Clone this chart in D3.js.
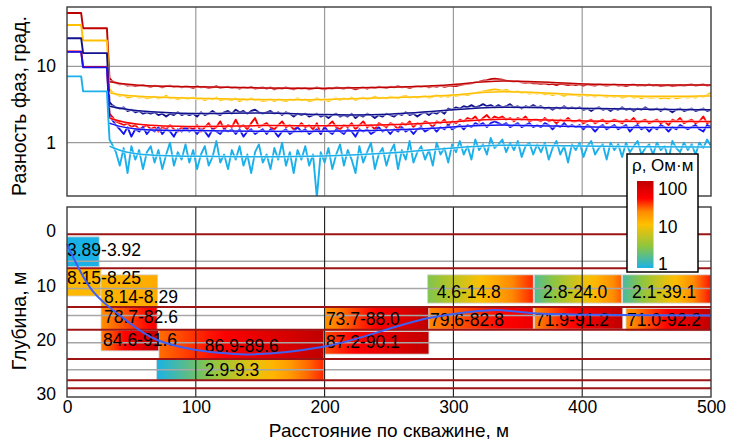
<!DOCTYPE html>
<html><head><meta charset="utf-8">
<script src="https://cdn.jsdelivr.net/npm/d3@7"></script>
<style>body{margin:0;background:#fff}svg{display:block;font-family:"Liberation Sans",Arial,sans-serif}</style>
</head><body><svg id="c" width="731" height="439"></svg>
<script>
// ---------------- DATA ----------------
const distHead = [0, 11, 12.5, 31, 33];
const distGrid = d3.range(35, 501, 3);
const distance = distHead.concat(distGrid);

const phaseDarkRed = [50, 50, 31.6, 31.6, 7.0,
 6.4,6.1,5.8,5.9,5.6,5.7,5.5,5.6,5.7,5.5,
 5.4,5.6,5.5,5.3,5.5,5.6,5.4,5.5,5.3,5.5,
 5.4,5.2,5.5,5.3,5.4,5.2,5.3,5.5,5.2,5.3,
 5.4,5.2,5.3,5.1,5.3,5.2,5.4,5.1,5.2,5.3,
 5.1,5.3,5.0,5.2,5.1,5.3,5.1,5.0,5.2,5.1,
 5.2,5.0,5.1,5.3,5.1,5.0,5.2,5.1,5.3,5.2,
 5.1,5.3,5.2,5.0,5.2,5.3,5.1,5.3,5.2,5.4,
 5.3,5.2,5.4,5.3,5.5,5.3,5.4,5.2,5.4,5.5,
 5.4,5.5,5.3,5.5,5.4,5.6,5.4,5.5,5.6,5.5,
 5.7,5.8,5.9,6.0,6.2,6.3,6.5,6.6,6.8,6.9,
 6.8,6.7,6.5,6.4,6.3,6.4,6.2,6.1,6.2,6.0,
 6.0,5.9,6.0,5.8,5.9,5.7,5.9,5.8,5.7,5.8,
 5.7,5.8,5.6,5.8,5.7,5.6,5.8,5.7,5.6,5.7,
 5.8,5.6,5.7,5.5,5.7,5.8,5.6,5.7,5.6,5.8,
 5.6,5.7,5.5,5.6,5.7,5.5,5.6,5.7,5.6,5.7,
 5.8,5.6,5.7,5.8,5.6,5.7];
const phaseOrange = [34.8, 34.8, 21.8, 21.8, 5.0,
 4.6,4.3,4.1,4.2,3.9,4.0,4.1,3.9,4.0,3.8,
 3.9,4.0,3.8,3.9,4.1,3.8,3.9,3.7,3.9,3.8,
 3.8,3.9,3.7,3.8,3.6,3.8,3.7,3.9,3.6,3.7,
 3.7,3.6,3.8,3.5,3.7,3.6,3.8,3.6,3.7,3.5,
 3.6,3.7,3.5,3.7,3.6,3.5,3.7,3.6,3.8,3.6,
 3.7,3.5,3.6,3.8,3.6,3.7,3.5,3.7,3.8,3.6,
 3.8,3.7,3.9,3.6,3.8,3.9,3.7,3.8,4.0,3.8,
 3.9,3.8,4.0,3.9,3.8,4.0,4.1,3.9,4.0,3.9,
 4.0,4.1,3.9,4.0,4.2,4.0,4.1,4.0,4.2,4.1,
 4.2,4.3,4.2,4.4,4.5,4.6,4.7,4.8,4.9,5.0,
 4.9,4.8,4.9,4.7,4.6,4.7,4.5,4.6,4.4,4.5,
 4.4,4.5,4.3,4.4,4.2,4.4,4.3,4.1,4.3,4.2,
 4.2,4.1,4.3,4.1,4.2,4.0,4.2,4.1,4.0,4.1,
 4.0,4.1,3.9,4.0,4.1,3.9,4.0,3.8,4.0,3.9,
 3.9,4.0,3.8,3.9,3.8,4.0,3.8,3.9,4.0,3.9,
 4.0,3.9,4.1,4.0,4.2,4.5];
const phaseNavy = [23.4, 23.4, 14.9, 14.9, 3.4,
 3.1,2.9,2.8,2.9,2.6,2.7,2.5,2.6,2.4,2.5,
 2.4,2.5,2.3,2.4,2.2,2.4,2.3,2.5,2.3,2.4,
 2.3,2.4,2.2,2.5,2.3,2.4,2.6,2.4,2.3,2.5,
 2.6,2.4,2.7,2.5,2.6,2.4,2.6,2.7,2.5,2.4,
 2.5,2.6,2.4,2.5,2.3,2.5,2.4,2.2,2.4,2.3,
 2.4,2.2,2.3,2.4,2.2,2.3,2.1,2.3,2.4,2.2,
 2.3,2.2,2.4,2.1,2.3,2.2,2.4,2.3,2.1,2.3,
 2.2,2.4,2.3,2.2,2.4,2.3,2.5,2.3,2.4,2.2,
 2.4,2.5,2.3,2.5,2.4,2.6,2.4,2.8,2.7,2.9,
 2.8,3.0,2.9,3.1,2.9,3.0,3.2,3.0,3.1,2.9,
 3.1,2.9,3.0,3.2,2.9,3.0,2.8,3.0,2.9,3.1,
 2.9,3.0,2.8,2.9,2.7,2.9,2.8,3.0,2.8,2.9,
 2.8,2.9,2.7,2.8,2.6,2.8,2.9,2.7,2.8,2.6,
 2.8,2.7,2.9,2.7,2.8,2.6,2.8,2.7,2.9,2.7,
 2.7,2.8,2.6,2.8,2.7,2.5,2.7,2.8,2.6,2.7,
 2.8,2.6,2.7,2.8,2.6,2.7];
const phaseRed = [15.7, 15.7, 9.8, 9.8, 2.4,
 2.2,1.9,1.8,1.7,1.8,1.6,1.7,1.5,1.6,1.7,
 1.5,1.6,1.4,1.6,1.5,1.7,1.5,1.4,1.6,1.5,
 1.6,1.5,1.7,1.4,1.6,1.8,1.5,1.6,1.9,1.5,
 1.7,1.6,2.0,1.6,1.7,1.5,1.8,2.1,1.6,1.7,
 1.8,1.6,1.5,1.7,1.9,1.6,1.7,1.5,1.6,1.8,
 1.6,1.7,1.5,1.8,1.3,1.6,1.7,1.9,1.6,1.5,
 1.7,1.6,1.8,1.5,1.7,1.9,1.6,1.7,1.5,1.8,
 1.7,1.6,1.8,1.7,1.5,1.8,1.7,1.9,1.6,1.8,
 1.7,1.9,1.8,1.6,1.9,1.8,2.0,1.7,1.9,1.8,
 2.0,1.9,2.1,2.0,2.2,1.9,2.1,2.3,2.0,2.2,
 2.1,2.2,2.0,2.1,1.9,2.1,2.0,2.2,1.9,2.0,
 2.0,1.9,2.1,1.9,2.0,1.8,2.0,1.9,2.1,1.9,
 1.9,2.0,1.8,1.9,2.0,1.8,1.9,2.0,1.8,1.9,
 2.0,1.9,1.8,2.0,1.9,2.1,1.8,1.9,2.0,1.8,
 1.9,2.0,1.8,1.9,1.7,2.0,1.9,2.1,1.8,1.9,
 2.0,1.8,1.9,2.2,1.8,1.9];
const phaseBlue = [15.5, 15.5, 9.7, 9.7, 2.2,
 2.0,1.7,1.5,1.3,1.6,1.2,1.5,1.4,1.6,1.3,
 1.5,1.4,1.6,1.3,1.5,1.4,1.2,1.5,1.4,1.6,
 1.4,1.5,1.3,1.5,1.4,1.2,1.5,1.4,1.3,1.5,
 1.4,1.5,1.3,1.5,1.2,1.4,1.5,1.3,1.4,1.5,
 1.3,1.5,1.4,1.2,1.4,1.5,1.3,1.4,1.6,1.4,
 1.5,1.3,1.4,1.5,1.3,1.6,1.4,1.3,1.5,1.4,
 1.3,1.5,1.4,1.2,1.5,1.4,1.5,1.3,1.4,1.6,
 1.4,1.5,1.3,1.5,1.4,1.6,1.4,1.5,1.3,1.5,
 1.6,1.4,1.5,1.6,1.4,1.6,1.5,1.7,1.5,1.6,
 1.7,1.5,1.7,1.6,1.8,1.7,1.8,1.6,1.8,1.9,
 1.8,1.7,1.8,1.6,1.7,1.8,1.6,1.7,1.8,1.6,
 1.7,1.6,1.8,1.7,1.5,1.7,1.6,1.8,1.6,1.7,
 1.6,1.7,1.5,1.7,1.6,1.4,1.6,1.7,1.5,1.6,
 1.7,1.5,1.6,1.7,1.4,1.6,1.7,1.5,1.6,1.4,
 1.6,1.5,1.7,1.6,1.4,1.6,1.5,1.7,1.6,1.5,
 1.6,1.7,1.5,1.4,1.7,1.6];
const phaseCyan = [7.4, 7.4, 4.7, 4.7, 1.1,
 0.95,0.75,0.5,0.85,0.4,0.9,0.6,0.8,0.45,0.75,
 0.9,0.55,0.8,0.45,0.7,1.0,0.5,0.75,0.6,0.95,
 0.55,0.8,0.45,0.7,0.9,0.5,0.65,1.05,0.55,0.7,
 0.45,0.8,0.6,0.9,0.5,0.7,0.4,0.75,0.95,0.55,
 0.7,0.45,0.85,0.6,1.0,0.5,0.75,0.4,0.8,0.6,
 0.9,0.5,0.7,0.19,0.75,0.55,0.85,0.45,0.7,0.95,
 0.5,0.8,0.6,0.4,0.9,0.55,0.75,1.0,0.45,0.7,
 0.85,0.5,0.75,0.95,0.45,0.8,0.6,1.05,0.55,0.75,
 0.9,0.6,0.8,0.5,1.0,0.7,0.85,0.55,0.95,0.75,
 1.05,0.7,0.9,0.6,1.1,0.8,0.95,0.7,1.15,0.85,
 0.95,1.1,0.75,1.0,0.8,1.05,0.65,0.9,1.0,0.7,
 0.95,0.75,1.0,0.6,0.85,1.05,0.7,0.9,0.55,0.95,
 0.8,1.0,0.65,0.9,1.05,0.7,0.85,0.95,0.6,1.0,
 0.8,0.95,0.65,1.0,0.75,0.9,1.05,0.7,0.85,0.95,
 0.7,1.0,0.8,0.9,0.6,1.05,0.85,0.75,1.0,0.8,
 0.95,0.7,1.0,0.85,1.1,0.9];

const trendDistance = [33, 50, 100, 150, 200, 250, 300, 333, 400, 450, 500];
const trendDarkRed = [6.3, 5.6, 5.4, 5.2, 5.15, 5.3, 5.6, 6.8, 5.8, 5.7, 5.7];
const trendOrange  = [4.5, 4.0, 3.8, 3.65, 3.65, 3.9, 4.1, 4.9, 4.2, 4.0, 4.1];
const trendNavy    = [3.0, 2.6, 2.35, 2.5, 2.3, 2.3, 2.7, 3.0, 2.8, 2.75, 2.7];
const trendRed     = [2.1, 1.7, 1.6, 1.7, 1.65, 1.7, 1.85, 2.1, 1.9, 1.9, 1.9];
const trendBlue    = [1.8, 1.45, 1.45, 1.4, 1.4, 1.45, 1.6, 1.75, 1.6, 1.58, 1.58];
const trendCyan    = [0.9, 0.68, 0.66, 0.65, 0.66, 0.72, 0.85, 0.95, 0.9, 0.88, 0.88];

const phaseTicks = [1, 10];
const distanceTicks = [0, 100, 200, 300, 400, 500];
const depthTicks = [0, 10, 20, 30];
const depthGrid = [5, 10, 15, 20, 25];
const boundaryDepths = [0, 6.3, 13.4, 17.6, 23.0, 26.9, 28.4];

const layerX0     = [0, 0, 26.4, 26.4, 26.4, 71.4, 69.6, 200.3, 200.3, 280, 281, 362.8, 362.8, 431.4, 434];
const layerX1     = [25, 26.4, 70.4, 70, 71.4, 199.5, 199.5, 281, 281, 362, 362, 430.6, 431.5, 500, 500];
const layerTop    = [0.5, 6.3, 7.5, 13.4, 17.7, 17.6, 23.05, 13.4, 17.95, 7.5, 13.4, 7.5, 13.5, 7.5, 13.7];
const layerBottom = [6.0, 11.4, 13.4, 17.6, 21.5, 23.0, 26.9, 17.8, 22.1, 12.7, 17.5, 12.7, 17.5, 12.7, 17.8];
const layerLabel  = ["3.89-3.92","8.15-8.25","8.14-8.29","78.7-82.6","84.6-91.6","86.9-89.6","2.9-9.3",
                     "73.7-88.0","87.2-90.1","4.6-14.8","79.6-82.8","2.8-24.0","71.9-91.2","2.1-39.1","71.0-92.2"];
const labelDist   = [0, 0, 28.7, 28.7, 28, 107, 107, 201, 201, 287, 281.8, 369.6, 363.4, 438.7, 434.8];
const labelDepth  = [2.9, 8.0, 11.5, 15.2, 19.5, 20.5, 25.0, 15.5, 19.8, 10.6, 15.7, 10.6, 15.7, 10.6, 15.7];

const profileDist  = [0, 20, 45, 70, 130, 200, 280, 330, 365, 430, 500];
const profileDepth = [1.8, 10.5, 15.7, 19.5, 22.1, 20.7, 15.5, 14.0, 14.6, 14.9, 15.0];

const legendTicks = [1, 10, 100];

// ---------------- STYLE ----------------
const seriesColors = ["#C00000", "#FFC000", "#12128F", "#FF0000", "#1414F0", "#1CB0EA"];
const series = [phaseDarkRed, phaseOrange, phaseNavy, phaseRed, phaseBlue, phaseCyan];
const trends = [trendDarkRed, trendOrange, trendNavy, trendRed, trendBlue, trendCyan];
const cmap = d3.scaleLinear().domain([0, 0.25, 0.5, 0.65, 0.8, 1])
  .range(["#1AB2E6", "#8DC63F", "#FFC000", "#FF8A00", "#FF0000", "#C00000"]).interpolate(d3.interpolateRgb);
const layerTint = [[0,0],[0.52,0.53],[0.53,0.56],[0.64,0.82],[0.66,1],[0.68,1],[0,0.76],
                   [0.62,1],[0.72,1],[0.22,0.76],[0.65,0.86],[0.12,0.7],[0.65,1],[0.1,0.78],[0.62,1]];

const font = '"Liberation Sans", Arial, sans-serif';
const svg = d3.select("#c");
const L = 67, R = 711;
const topT = 7, topB = 196, botT = 207, botB = 397;

const x = d3.scaleLinear().domain([0, 500]).range([L, R]);
const yPhase = d3.scaleLog().domain([0.2, 60]).range([topB, topT]);
const yDepth = d3.scaleLinear().domain([-5, 30]).range([botT, botB]);

const defs = svg.append("defs");
defs.append("clipPath").attr("id", "clipTop").append("rect")
  .attr("x", L).attr("y", topT).attr("width", R - L).attr("height", topB - topT);
defs.append("clipPath").attr("id", "clipBot").append("rect")
  .attr("x", L).attr("y", botT).attr("width", R - L).attr("height", botB - botT);

// ---------- TOP PANEL ----------
const gTop = svg.append("g");
gTop.append("rect").attr("x", L).attr("y", topT).attr("width", R - L).attr("height", topB - topT).attr("fill", "#fff");
gTop.selectAll("line.hg").data(phaseTicks).join("line")
  .attr("x1", L).attr("x2", R).attr("y1", d => yPhase(d)).attr("y2", d => yPhase(d))
  .attr("stroke", "#9a9a9a").attr("stroke-width", 1.2);
gTop.selectAll("line.vg").data(distanceTicks.slice(1, -1)).join("line")
  .attr("y1", topT).attr("y2", topB).attr("x1", d => x(d)).attr("x2", d => x(d))
  .attr("stroke", "#9a9a9a").attr("stroke-width", 1.2);

const gLines = gTop.append("g").attr("clip-path", "url(#clipTop)");
const lineNoisy = d3.line().x((d, i) => x(distance[i])).y(d => yPhase(d));
const lineTrend = d3.line().x((d, i) => x(trendDistance[i])).y(d => yPhase(d)).curve(d3.curveBasis);
series.forEach((s, k) => {
  gLines.append("path").attr("d", lineNoisy(s)).attr("fill", "none")
    .attr("stroke", seriesColors[k]).attr("stroke-width", 1.9).attr("stroke-linejoin", "round");
});
trends.forEach((s, k) => {
  gLines.append("path").attr("d", lineTrend(s)).attr("fill", "none")
    .attr("stroke", "#fff").attr("stroke-opacity", 0.55).attr("stroke-width", 3.2);
  gLines.append("path").attr("d", lineTrend(s)).attr("fill", "none")
    .attr("stroke", seriesColors[k]).attr("stroke-width", 1.5);
});
gTop.append("rect").attr("x", L).attr("y", topT).attr("width", R - L).attr("height", topB - topT)
  .attr("fill", "none").attr("stroke", "#3a3a3a").attr("stroke-width", 1.4);

const axTop = d3.axisLeft(yPhase).tickValues(phaseTicks).tickFormat(d3.format("d")).tickSize(0).tickPadding(11);
const gAxTop = svg.append("g").attr("transform", `translate(${L},0)`).call(axTop);
gAxTop.select(".domain").remove();
gAxTop.selectAll("text").attr("font-size", 17.5).attr("font-family", font).attr("fill", "#000");

// ---------- BOTTOM PANEL ----------
const gBot = svg.append("g");
gBot.append("rect").attr("x", L).attr("y", botT).attr("width", R - L).attr("height", botB - botT).attr("fill", "#fff");

layerLabel.forEach((lab, i) => {
  const t0 = layerTint[i][0], t1 = layerTint[i][1];
  const gr = defs.append("linearGradient").attr("id", "lg" + i).attr("x1", "0%").attr("x2", "100%").attr("y1", "0%").attr("y2", "0%");
  d3.range(0, 1.0001, 0.1).forEach(f => {
    gr.append("stop").attr("offset", (f * 100) + "%").attr("stop-color", cmap(t0 + (t1 - t0) * f));
  });
});
const gBoxes = gBot.append("g").attr("clip-path", "url(#clipBot)");
gBoxes.selectAll("rect").data(layerLabel).join("rect")
  .attr("x", (d, i) => x(layerX0[i])).attr("width", (d, i) => x(layerX1[i]) - x(layerX0[i]))
  .attr("y", (d, i) => yDepth(layerTop[i])).attr("height", (d, i) => yDepth(layerBottom[i]) - yDepth(layerTop[i]))
  .attr("fill", (d, i) => `url(#lg${i})`).attr("stroke", "#d4d4d4").attr("stroke-width", 0.8);

gBot.selectAll("line.dg").data(depthGrid).join("line")
  .attr("x1", L).attr("x2", R).attr("y1", d => yDepth(d)).attr("y2", d => yDepth(d))
  .attr("stroke", "#a6a6a6").attr("stroke-width", 1.5);
gBot.selectAll("line.vg").data(distanceTicks.slice(1, -1)).join("line")
  .attr("y1", botT).attr("y2", botB).attr("x1", d => x(d)).attr("x2", d => x(d))
  .attr("stroke", "#1a1a1a").attr("stroke-width", 1.1);
gBot.selectAll("line.bd").data(boundaryDepths).join("line")
  .attr("x1", L).attr("x2", R).attr("y1", d => yDepth(d)).attr("y2", d => yDepth(d))
  .attr("stroke", "#9E1414").attr("stroke-width", 2);

gBot.selectAll("text.lab").data(layerLabel).join("text")
  .attr("x", (d, i) => x(labelDist[i])).attr("y", (d, i) => yDepth(labelDepth[i]))
  .attr("dy", "0.36em").attr("font-size", 17.5).attr("font-family", font).attr("fill", "#000").text(d => d);

const profileLine = d3.line().x((d, i) => x(profileDist[i])).y(d => yDepth(d)).curve(d3.curveCatmullRom.alpha(0.5));
gBot.append("path").attr("d", profileLine(profileDepth)).attr("fill", "none")
  .attr("stroke", "#3F5FF2").attr("stroke-width", 2);

gBot.append("rect").attr("x", L).attr("y", botT).attr("width", R - L).attr("height", botB - botT)
  .attr("fill", "none").attr("stroke", "#3a3a3a").attr("stroke-width", 1.4);

const axDepth = d3.axisLeft(yDepth).tickValues(depthTicks).tickSize(0).tickPadding(11);
const gAxD = svg.append("g").attr("transform", `translate(${L},-3)`).call(axDepth);
gAxD.select(".domain").remove();
gAxD.selectAll("text").attr("font-size", 17.5).attr("font-family", font).attr("fill", "#000");

const axDist = d3.axisBottom(x).tickValues(distanceTicks).tickSize(0).tickPadding(4);
const gAxX = svg.append("g").attr("transform", `translate(0,${botB})`).call(axDist);
gAxX.select(".domain").remove();
gAxX.selectAll("text").attr("font-size", 17.5).attr("font-family", font).attr("fill", "#000");

// axis titles
svg.append("text").attr("transform", "translate(26,106) rotate(-90)").attr("text-anchor", "middle")
  .attr("font-size", 19.5).attr("font-family", font).attr("fill", "#000").text("Разность фаз, град.");
svg.append("text").attr("transform", "translate(26,321) rotate(-90)").attr("text-anchor", "middle")
  .attr("font-size", 19.5).attr("font-family", font).attr("fill", "#000").text("Глубина, м");
svg.append("text").attr("x", (L + R) / 2).attr("y", 436.5).attr("text-anchor", "middle")
  .attr("font-size", 19).attr("font-family", font).attr("fill", "#000").text("Расстояние по скважине, м");

// ---------- LEGEND ----------
const gLeg = svg.append("g");
gLeg.append("rect").attr("x", 627).attr("y", 154).attr("width", 71).attr("height", 118)
  .attr("fill", "#fff").attr("stroke", "#000").attr("stroke-width", 1.5);
gLeg.append("text").attr("x", 632).attr("y", 165).attr("dy", "0.36em").attr("font-size", 17)
  .attr("font-family", font).attr("fill", "#000").text("ρ, Ом·м");
const lgV = defs.append("linearGradient").attr("id", "legGrad").attr("x1", "0%").attr("x2", "0%").attr("y1", "100%").attr("y2", "0%");
d3.range(0, 1.0001, 0.05).forEach(f => lgV.append("stop").attr("offset", (f * 100) + "%").attr("stop-color", cmap(f)));
gLeg.append("rect").attr("x", 637).attr("y", 181).attr("width", 16.5).attr("height", 87).attr("fill", "url(#legGrad)");
const yLeg = d3.scaleLog().domain([1, 100]).range([264, 189]);
gLeg.selectAll("text.lt").data(legendTicks).join("text")
  .attr("x", 658).attr("y", d => yLeg(d)).attr("dy", "0.36em").attr("font-size", 17.5)
  .attr("font-family", font).attr("fill", "#000").text(d => d);
</script></body></html>
